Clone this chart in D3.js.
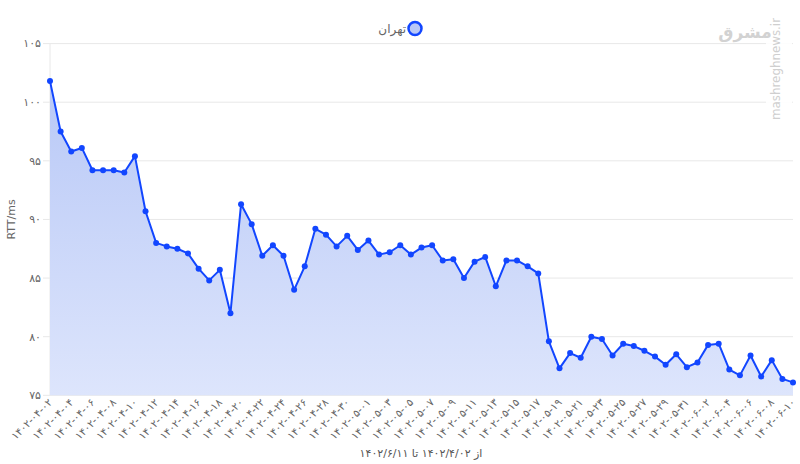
<!DOCTYPE html>
<html><head><meta charset="utf-8">
<script src="https://cdn.jsdelivr.net/npm/d3@7"></script>
<style>
html,body{margin:0;padding:0;background:#fff;}
svg{display:block;font-family:"DejaVu Sans",sans-serif;}
</style></head>
<body><svg id="c" width="800" height="464"></svg>
<script>
// ---- data ----
const categories = [
"1402-04-02","1402-04-03","1402-04-04","1402-04-05","1402-04-06","1402-04-07","1402-04-08","1402-04-09","1402-04-10","1402-04-11",
"1402-04-12","1402-04-13","1402-04-14","1402-04-15","1402-04-16","1402-04-17","1402-04-18","1402-04-19","1402-04-20","1402-04-21",
"1402-04-22","1402-04-23","1402-04-24","1402-04-25","1402-04-26","1402-04-27","1402-04-28","1402-04-29","1402-04-30","1402-04-31",
"1402-05-01","1402-05-02","1402-05-03","1402-05-04","1402-05-05","1402-05-06","1402-05-07","1402-05-08","1402-05-09","1402-05-10",
"1402-05-11","1402-05-12","1402-05-13","1402-05-14","1402-05-15","1402-05-16","1402-05-17","1402-05-18","1402-05-19","1402-05-20",
"1402-05-21","1402-05-22","1402-05-23","1402-05-24","1402-05-25","1402-05-26","1402-05-27","1402-05-28","1402-05-29","1402-05-30",
"1402-05-31","1402-06-01","1402-06-02","1402-06-03","1402-06-04","1402-06-05","1402-06-06","1402-06-07","1402-06-08","1402-06-09",
"1402-06-10"];
const tehranRTT = [
101.8,97.5,95.8,96.1,94.2,94.2,94.2,94.0,95.4,90.7,
88.0,87.7,87.5,87.1,85.8,84.8,85.7,82.0,91.3,89.6,
86.9,87.8,86.9,84.0,86.0,89.2,88.7,87.7,88.6,87.4,
88.2,87.0,87.2,87.8,87.0,87.6,87.8,86.5,86.6,85.0,
86.4,86.8,84.3,86.5,86.5,86.0,85.4,79.6,77.3,78.6,
78.2,80.0,79.8,78.4,79.4,79.2,78.8,78.3,77.6,78.5,
77.4,77.8,79.3,79.4,77.2,76.7,78.4,76.6,78.0,76.4,
76.1];
const yTicks = [75,80,85,90,95,100,105];
const seriesName = "تهران";
const yTitle = "RTT/ms";
const caption = "از ۱۴۰۲/۴/۰۲ تا ۱۴۰۲/۶/۱۱";

const fa = s => String(s).replace(/[0-9]/g, d => "۰۱۲۳۴۵۶۷۸۹"[+d]);

// ---- chart ----
const svg = d3.select("#c");
const x = d3.scalePoint().domain(categories).range([50, 793]);
const y = d3.scaleLinear().domain([75, 105]).range([395.3, 43.6]);
const blue = "#1246ff";

const defs = svg.append("defs");
const g = defs.append("linearGradient").attr("id","fillg")
  .attr("gradientUnits","userSpaceOnUse").attr("x1",0).attr("y1",y(105)).attr("x2",0).attr("y2",y(75));
g.append("stop").attr("offset",0).attr("stop-color","#b4c5f6");
g.append("stop").attr("offset",1).attr("stop-color","#dde5fc");

// grid
const grid = svg.append("g");
grid.selectAll("line").data(yTicks).join("line")
  .attr("x1",43).attr("x2",793).attr("y1",d=>y(d)).attr("y2",d=>y(d))
  .attr("stroke","#e8e8e8").attr("stroke-width",1);
svg.append("line").attr("x1",50).attr("x2",50).attr("y1",y(105)).attr("y2",y(75))
  .attr("stroke","#e8e8e8");

// y labels
svg.append("g").selectAll("text").data(yTicks).join("text")
  .attr("x",41).attr("y",d=>y(d)).attr("dy","0.35em")
  .attr("text-anchor","end").attr("font-size",11).attr("fill","#666")
  .text(d=>fa(d));

svg.append("text").attr("transform",`translate(15,${(y(75)+y(105))/2}) rotate(-90)`)
  .attr("text-anchor","middle").attr("font-size",11).attr("fill","#666").text(yTitle);

// area + line
const data = categories.map((c,i)=>({c, v:tehranRTT[i]}));
svg.append("path").datum(data)
  .attr("d", d3.area().x(d=>x(d.c)).y0(y(75)).y1(d=>y(d.v)))
  .attr("fill","url(#fillg)");
svg.append("path").datum(data)
  .attr("d", d3.line().x(d=>x(d.c)).y(d=>y(d.v)))
  .attr("fill","none").attr("stroke",blue).attr("stroke-width",2).attr("stroke-linejoin","round");
svg.append("g").selectAll("circle").data(data).join("circle")
  .attr("cx",d=>x(d.c)).attr("cy",d=>y(d.v)).attr("r",3).attr("fill",blue);

// x labels
const xt = categories.filter((c,i)=>i%2===0);
svg.append("g").selectAll("text").data(xt).join("text")
  .attr("transform",d=>`translate(${x(d)+3},${403}) rotate(-45)`)
  .attr("text-anchor","end").attr("direction","ltr").attr("font-size",10.5).attr("fill","#666")
  .text(d=>fa(d));

// legend
svg.append("circle").attr("cx",415).attr("cy",28.5).attr("r",6.5)
  .attr("fill","#b9c8f7").attr("stroke",blue).attr("stroke-width",2.5);
svg.append("text").attr("x",406).attr("y",28.5).attr("dy","0.35em")
  .attr("text-anchor","end").attr("font-size",12).attr("fill","#666").text(seriesName);

// caption
svg.append("text").attr("x",421).attr("y",457).attr("text-anchor","middle")
  .attr("direction","rtl").attr("font-size",11).attr("fill","#555").text(caption);

// watermark
svg.append("rect").attr("x",766).attr("y",8).attr("width",26).attr("height",118).attr("fill","#fff").attr("opacity",0.9);
svg.append("text").attr("x",745).attr("y",38).attr("text-anchor","middle")
  .attr("font-size",17).attr("font-weight","bold").attr("fill","#d2d2d2").text("مشرق");
svg.append("text").attr("transform","translate(780,120) rotate(-90)")
  .attr("font-size",12).attr("fill","#cfcfcf").attr("textLength",102).attr("lengthAdjust","spacingAndGlyphs")
  .text("mashreghnews.ir");
</script></body></html>
